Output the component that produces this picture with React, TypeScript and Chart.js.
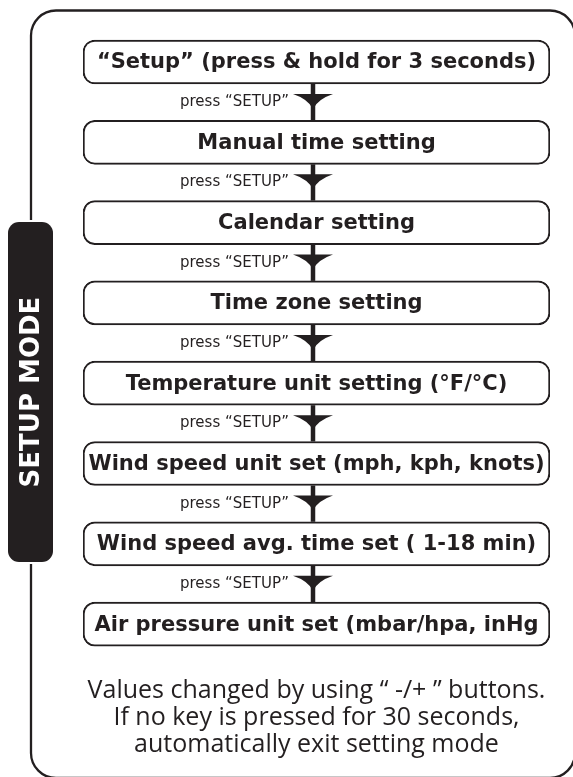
import { useEffect, useRef } from 'react';
import { Chart, registerables } from 'chart.js';

Chart.register(...registerables);

// ---- data ----
const steps: string[] = [
  '“Setup” (press & hold for 3 seconds)',
  'Manual time setting',
  'Calendar setting',
  'Time zone setting',
  'Temperature unit setting (°F/°C)',
  'Wind speed unit set (mph, kph, knots)',
  'Wind speed avg. time set ( 1-18 min)',
  'Air pressure unit set (mbar/hpa, inHg',
];
const stepSpans: number[][] = [
  [0, 1], [0, 1], [0, 1], [0, 1], [0, 1], [0, 1], [0, 1], [0, 1],
];
const transitionLabel = 'press “SETUP”';
const sideLabel = 'SETUP MODE';
const footnoteLines: string[] = [
  'Values changed by using “ -/+ ” buttons.',
  'If no key is pressed for 30 seconds,',
  'automatically exit setting mode',
];
const arrowAt = 0.4925; // position of the arrows along the x scale

const INK = '#231f20';

const flowPlugin = {
  id: 'flow',
  beforeDatasetsDraw(chart: any) {
    const ctx = chart.ctx as CanvasRenderingContext2D;
    ctx.save();
    // outer frame with gap for the side pill
    const L = 31, T = 10.5, R = 575, B = 778, r = 25;
    ctx.strokeStyle = INK;
    ctx.lineWidth = 2.3;
    ctx.beginPath();
    ctx.moveTo(L, 220);
    ctx.lineTo(L, T + r);
    ctx.arcTo(L, T, L + r, T, r);
    ctx.lineTo(R - r, T);
    ctx.arcTo(R, T, R, T + r, r);
    ctx.lineTo(R, B - r);
    ctx.arcTo(R, B, R - r, B, r);
    ctx.lineTo(L + r, B);
    ctx.arcTo(L, B, L, B - r, r);
    ctx.lineTo(L, 564);
    ctx.stroke();

    // side pill
    ctx.fillStyle = INK;
    ctx.beginPath();
    (ctx as any).roundRect(8, 222, 45, 340, 11);
    ctx.fill();
    ctx.translate(31, 392);
    ctx.rotate(-Math.PI / 2);
    ctx.fillStyle = '#ffffff';
    ctx.font = 'bold 26px "DejaVu Sans"';
    ctx.textAlign = 'center';
    ctx.textBaseline = 'middle';
    ctx.fillText(sideLabel, 0, 1);
    ctx.restore();
  },
  afterDatasetsDraw(chart: any) {
    const ctx = chart.ctx as CanvasRenderingContext2D;
    const meta = chart.getDatasetMeta(0);
    const xs = chart.scales.x;
    const ax = Math.round(xs.getPixelForValue(arrowAt));
    ctx.save();
    ctx.fillStyle = INK;
    ctx.strokeStyle = INK;
    // box labels
    ctx.font = 'bold 21px "DejaVu Sans"';
    ctx.textAlign = 'center';
    ctx.textBaseline = 'middle';
    meta.data.forEach((bar: any, i: number) => {
      const p = bar.getProps(['x', 'y', 'base'], true);
      const cx = (p.x + p.base) / 2;
      ctx.fillText(steps[i], cx, p.y + 1);
    });
    // arrows between boxes
    for (let i = 0; i < meta.data.length - 1; i++) {
      const a = meta.data[i].getProps(['y', 'height'], true);
      const b = meta.data[i + 1].getProps(['y', 'height'], true);
      const y0 = a.y + a.height / 2;
      const y1 = b.y - b.height / 2;
      ctx.lineWidth = 4.5;
      ctx.beginPath();
      ctx.moveTo(ax, y0);
      ctx.lineTo(ax, y1);
      ctx.stroke();
      const top = y0 + 10;
      const tip = y0 + 25;
      ctx.beginPath();
      ctx.moveTo(ax - 20, top);
      ctx.lineTo(ax + 20, top);
      ctx.quadraticCurveTo(ax + 5, top + 5, ax, tip);
      ctx.quadraticCurveTo(ax - 5, top + 5, ax - 20, top);
      ctx.closePath();
      ctx.fill();
      ctx.font = '15px "DejaVu Sans"';
      ctx.textAlign = 'right';
      ctx.textBaseline = 'alphabetic';
      ctx.fillText(transitionLabel, ax - 24, y0 + 22);
    }
    // footnote
    ctx.font = '25px "Open Sans"';
    ctx.textAlign = 'center';
    ctx.textBaseline = 'middle';
    const cx = (xs.left + xs.right) / 2;
    footnoteLines.forEach((line, i) => {
      ctx.fillText(line, cx, 691 + i * 27);
    });
    ctx.restore();
  },
};

export default function App() {
  const ref = useRef<HTMLCanvasElement>(null);
  useEffect(() => {
    document.body.style.margin = '0';
    const chart = new Chart(ref.current!, {
      type: 'bar',
      data: {
        labels: steps,
        datasets: [
          {
            data: stepSpans as any,
            backgroundColor: '#ffffff',
            borderColor: INK,
            borderWidth: 2,
            borderSkipped: false,
            borderRadius: { topLeft: 12, topRight: 12, bottomLeft: 12, bottomRight: 12 },
            barThickness: 44,
          },
        ],
      },
      options: {
        indexAxis: 'y',
        animation: false,
        responsive: false,
        devicePixelRatio: 1,
        layout: { padding: { left: 83, right: 23, top: 21.85, bottom: 112.75 } },
        scales: {
          x: { display: false, min: 0, max: 1 },
          y: { display: false, offset: true },
        },
        plugins: {
          legend: { display: false },
          tooltip: { enabled: false },
          title: { display: false },
        },
      },
      plugins: [flowPlugin],
    });
    return () => chart.destroy();
  }, []);
  return (
    <div style={{ position: 'fixed', left: 0, top: 0, width: 573, height: 777, background: '#fff' }}>
      <canvas ref={ref} width={573} height={777} style={{ width: 573, height: 777, display: 'block' }} />
    </div>
  );
}
